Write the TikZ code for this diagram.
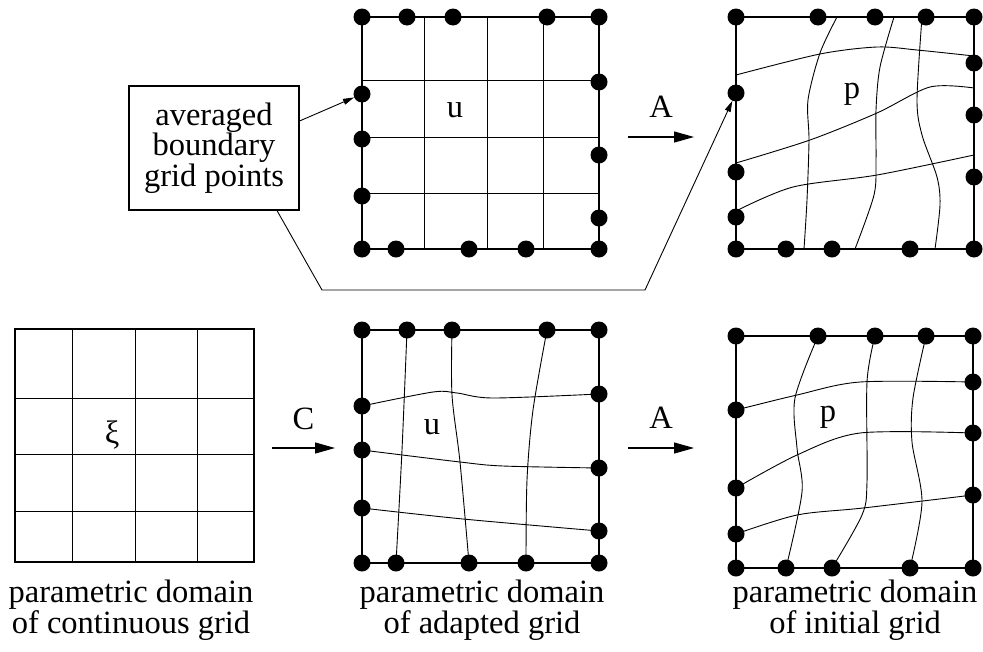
\documentclass[tikz,border=0pt]{standalone}
\usepackage{fontspec}
\setmainfont{Liberation Serif}
\usetikzlibrary{arrows.meta}

\tikzset{
  dot/.style={circle, fill, inner sep=0pt, minimum size=17pt},
  boxline/.style={line width=1.1pt},
  gridline/.style={line width=0.9pt},
  mapping/.style={-{Triangle[length=20pt,width=11pt]}, line width=1.2pt},
  pointer/.style={-{Triangle[length=11pt,width=6pt]}, line width=0.9pt},
  caption/.style={align=center, font=\fontsize{32.5}{28}\selectfont},
}

\begin{document}
\begin{tikzpicture}[x=1pt, y=-1pt, every node/.style={font=\fontsize{32.5}{29}\selectfont}]
    \useasboundingbox (0,0) rectangle (983,651);

    % parametric domain of continuous grid
    \draw[boxline] (15,329) rectangle (254,562);
    \foreach \x in {72,135,197} \draw[gridline] (\x,329) -- (\x,562);
    \foreach \y in {398,454,511} \draw[gridline] (15,\y) -- (254,\y);
    \node (xi) at (112,435) {ξ};

    % top middle: u with averaged boundary points
    \draw[boxline] (362,17) rectangle (599,249);
    \foreach \x in {424,487,543} \draw[gridline] (\x,17) -- (\x,249);
    \foreach \y in {80,137,193} \draw[gridline] (362,\y) -- (599,\y);
    \foreach \x [count=\i] in {362,407,453,547,599} \node[dot] (tmT\i) at (\x,17) {};
    \foreach \x [count=\i] in {362,396,469,526,599} \node[dot] (tmB\i) at (\x,249) {};
    \foreach \y [count=\i] in {94,139,196} \node[dot] (tmL\i) at (362,\y) {};
    \foreach \y [count=\i] in {82,155,218} \node[dot] (tmR\i) at (599,\y) {};
    \node (utop) at (455,110) {u};

    % top right: p
    \draw[boxline] (736,17) rectangle (974,249);
    \draw[gridline] plot[smooth] coordinates {(837,17) (820,53) (808,100) (809,140) (807,200) (804,249)};
    \draw[gridline] plot[smooth] coordinates {(894,17) (880,67) (876,110) (876,160) (874,195) (855,249)};
    \draw[gridline] plot[smooth] coordinates {(922,17) (917,100) (922,135) (937,177) (940,205) (935,249)};
    \draw[gridline] plot[smooth] coordinates {(736,75) (820,54) (877,47) (917,50) (974,56)};
    \draw[gridline] plot[smooth] coordinates {(736,163) (810,140) (877,113) (930,87) (974,88)};
    \draw[gridline] plot[smooth] coordinates {(736,211) (793,187) (877,175) (974,155)};
    \foreach \x [count=\i] in {736,818,875,926,974} \node[dot] (trT\i) at (\x,17) {};
    \foreach \x [count=\i] in {736,786,832,910,974} \node[dot] (trB\i) at (\x,249) {};
    \foreach \y [count=\i] in {93,172,217} \node[dot] (trL\i) at (736,\y) {};
    \foreach \y [count=\i] in {63,115,177} \node[dot] (trR\i) at (974,\y) {};
    \node (ptop) at (852,94) {p};

    % bottom middle: adapted grid u
    \draw[boxline] (362,330) rectangle (599,563);
    \draw[gridline] plot[smooth] coordinates {(407,330) (402,450) (396,563)};
    \draw[gridline] plot[smooth] coordinates {(452,330) (452,395) (460,462) (469,563)};
    \draw[gridline] plot[smooth] coordinates {(547,330) (533,410) (527,480) (526,563)};
    \draw[gridline] plot[smooth] coordinates {(362,406) (433,392) (457,393) (493,398) (599,394)};
    \draw[gridline] plot[smooth] coordinates {(362,450) (460,462) (503,466) (599,468)};
    \draw[gridline] plot[smooth] coordinates {(362,508) (463,519) (599,531)};
    \foreach \x [count=\i] in {362,407,452,547,599} \node[dot] (bmT\i) at (\x,330) {};
    \foreach \x [count=\i] in {362,396,469,526,599} \node[dot] (bmB\i) at (\x,563) {};
    \foreach \y [count=\i] in {406,450,508} \node[dot] (bmL\i) at (362,\y) {};
    \foreach \y [count=\i] in {394,468,531} \node[dot] (bmR\i) at (599,\y) {};
    \node (ubot) at (432,427) {u};

    % bottom right: initial grid p
    \draw[boxline] (736,336) rectangle (973,568);
    \draw[gridline] plot[smooth] coordinates {(818,336) (795,398) (797,448) (802,492) (786,568)};
    \draw[gridline] plot[smooth] coordinates {(875,336) (867,382) (867,482) (862,515) (832,568)};
    \draw[gridline] plot[smooth] coordinates {(926,336) (913,398) (912,442) (922,502) (910,568)};
    \draw[gridline] plot[smooth] coordinates {(736,410) (797,395) (860,382) (973,382)};
    \draw[gridline] plot[smooth] coordinates {(736,488) (797,455) (860,433) (973,433)};
    \draw[gridline] plot[smooth] coordinates {(736,534) (797,515) (863,508) (973,495)};
    \foreach \x [count=\i] in {736,818,875,926,973} \node[dot] (brT\i) at (\x,336) {};
    \foreach \x [count=\i] in {736,786,832,910,973} \node[dot] (brB\i) at (\x,568) {};
    \foreach \y [count=\i] in {410,488,534} \node[dot] (brL\i) at (736,\y) {};
    \foreach \y [count=\i] in {382,433,495} \node[dot] (brR\i) at (973,\y) {};
    \node (pbot) at (828,417) {p};

    % mappings
    \coordinate (Cs) at (272,448);
    \coordinate (Ce) at (335,448);
    \draw[mapping] (Cs) -- (Ce) node[midway, above=14pt] (C) {C};
    \coordinate (Ats) at (628,137);
    \coordinate (Ate) at (694,137);
    \draw[mapping] (Ats) -- (Ate) node[midway, above=16pt] (At) {A};
    \coordinate (Abs) at (628,448);
    \coordinate (Abe) at (694,448);
    \draw[mapping] (Abs) -- (Abe) node[midway, above=16pt] (Ab) {A};

    % callout
    \node[draw, line width=1.1pt, minimum width=170pt, minimum height=124pt, inner sep=0pt,
          align=center] (callout) at (214,148) {averaged\\boundary\\grid points};
    \draw[pointer] ([yshift=27pt]callout.east) -- (tmL1);
    \coordinate (bend1) at (322,290);
    \coordinate (bend2) at (645,290);
    \draw[pointer] ([xshift=63pt]callout.south) -- (bend1) -- (bend2) -- (trL1);

    % captions
    \node[caption] (capC) at (131,610) {parametric domain\\of continuous grid};
    \node[caption] (capU) at (482,610) {parametric domain\\of adapted grid};
    \node[caption] (capP) at (855,610) {parametric domain\\of initial grid};
\end{tikzpicture}
\end{document}
